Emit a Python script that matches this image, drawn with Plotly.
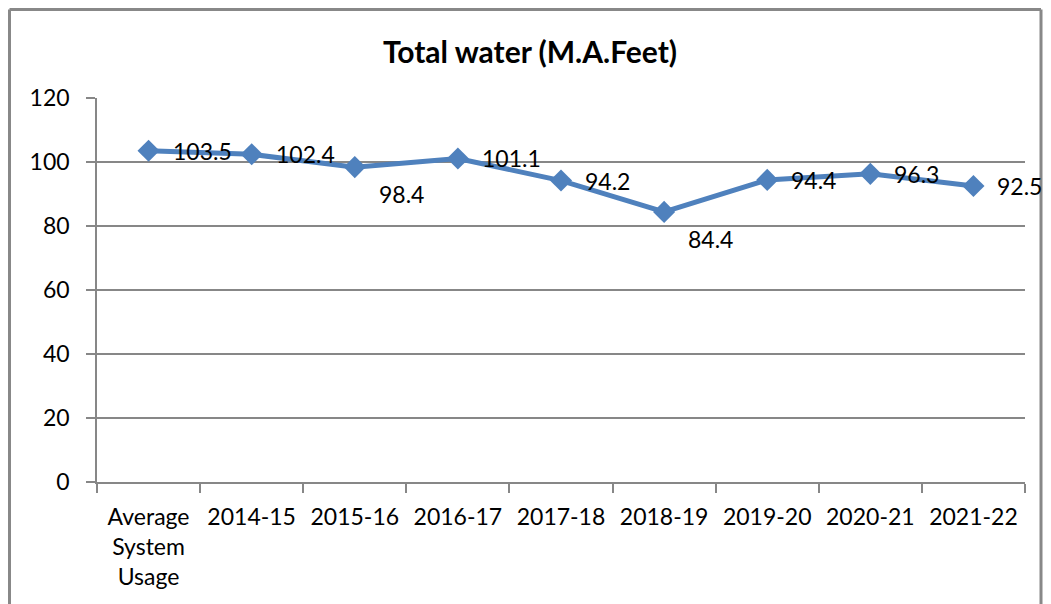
import plotly.graph_objects as go

categories = ["Average<br>System<br>Usage", "2014-15", "2015-16", "2016-17", "2017-18",
              "2018-19", "2019-20", "2020-21", "2021-22"]
values = [103.5, 102.4, 98.4, 101.1, 94.2, 84.4, 94.4, 96.3, 92.5]
label_text = ["103.5", "102.4", "98.4", "101.1", "94.2", "84.4", "94.4", "96.3", "92.5"]
label_dy = [0, 0, -27, 0, 0, -27, 0, 0, 0]

FONT = "Lato"
LINE = "#4F81BD"
GRID = "#878787"
FRAME = "#888888"

# page body adds an 8px offset; plot area in figure coords
L, T, W, H = 89, 90, 928, 384

fig = go.Figure()
fig.add_trace(go.Scatter(
    x=categories, y=values, mode="lines+markers",
    line=dict(color=LINE, width=5),
    marker=dict(symbol="diamond", size=17, color=LINE),
    hoverinfo="skip", showlegend=False,
))

for c, v, t, dy in zip(categories, values, label_text, label_dy):
    fig.add_annotation(x=c, y=v, text=t, showarrow=False, xanchor="left",
                       yanchor="middle", xshift=22, yshift=dy,
                       font=dict(family=FONT, size=23, color="black"))

# outer chart frame (pixel positions converted to paper fractions)
fx0, fx1 = (1.5 - L) / W, (1033 - L) / W
fy_top, fy_bot = (T + H - 1.5) / H, -0.5
for x0, y0, x1, y1 in [(fx0, fy_top, fx1, fy_top), (fx0, fy_bot, fx0, fy_top), (fx1, fy_bot, fx1, fy_top)]:
    fig.add_shape(type="line", xref="paper", yref="paper", x0=x0, y0=y0, x1=x1, y1=y1,
                  line=dict(color=FRAME, width=3), layer="above")

fig.update_layout(
    width=1051, height=604,
    margin=dict(l=L, r=1051 - L - W, t=T, b=604 - T - H, autoexpand=False),
    paper_bgcolor="white", plot_bgcolor="white",
    title=dict(text="<b>Total water (M.A.Feet)</b>", x=522 / 1051, xref="container", xanchor="center",
               y=1 - 44 / 604, yref="container", yanchor="middle",
               font=dict(family=FONT, size=30, color="black")),
    font=dict(family=FONT, size=23, color="black"),
)
fig.update_xaxes(
    type="category", range=[-0.5, len(categories) - 0.5],
    tickson="boundaries", ticks="outside", ticklen=9, tickwidth=1.5,
    tickcolor=GRID, showline=True, linecolor=GRID, linewidth=1.5, showgrid=False,
    tickfont=dict(family=FONT, size=23, color="black"), tickangle=0,
    automargin=False, ticklabelstandoff=14,
)
fig.update_yaxes(
    range=[0, 120], dtick=20, ticks="outside", ticklen=9, tickwidth=1.5, tickcolor=GRID,
    showline=True, linecolor=GRID, linewidth=1.5, showgrid=True, gridcolor=GRID, gridwidth=1.5,
    zeroline=False, tickfont=dict(family=FONT, size=23, color="black"),
    automargin=False, ticklabelstandoff=12,
)

fig.write_html("out.html")
